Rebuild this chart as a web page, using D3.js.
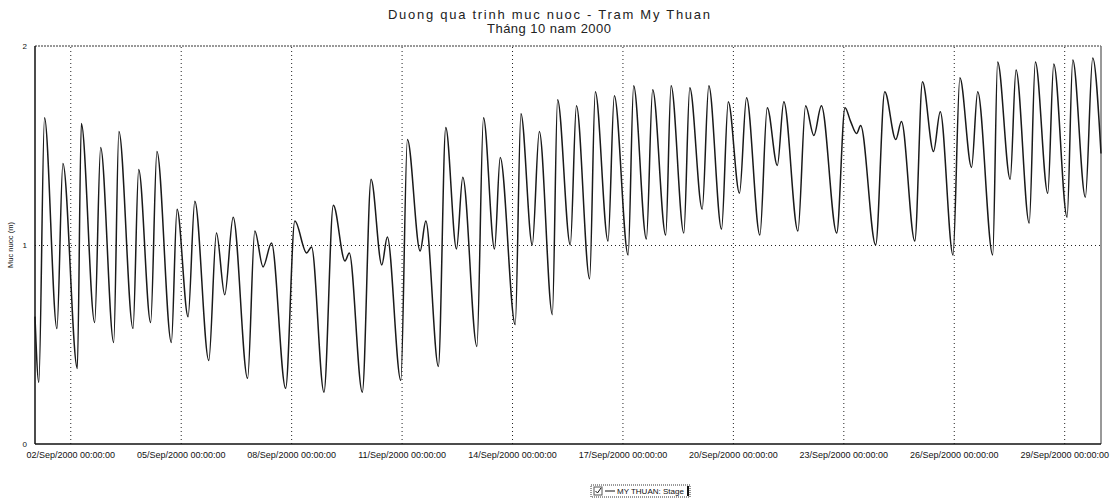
<!DOCTYPE html>
<html>
<head>
<meta charset="utf-8">
<script src="https://cdn.jsdelivr.net/npm/d3@7"></script>
<style>
  body { margin: 0; background: #fff; }
  svg { display: block; font-family: "Liberation Sans", Arial, sans-serif; }
  .axis path, .axis line { stroke: none; }
  .axis text { font-size: 9px; fill: #111; }
  .grid line { stroke: #222; stroke-dasharray: 1,3; }
  .grid path { stroke: none; }
</style>
</head>
<body>
<div id="chart"></div>
<script>
//DATA
//time of each turning point, hours after 01/Sep/2000 00:00
const hours = [
  1.0, 3.5, 7.2, 15.3, 19.2, 28.6, 31.2, 39.9, 43.8, 52.3,
  55.7, 64.9, 68.6, 76.4, 80.5, 89.9, 93.6, 100.8, 105.2, 114.3,
  119.3, 124.7, 130.2, 139.6, 144.3, 149.7, 155.2, 164.4, 170.4, 178.1,
  181.3, 189.4, 195.5, 203.1, 205.9, 214.4, 220.1, 227.1, 230.7, 239.5,
  243.8, 252.1, 255.8, 264.0, 268.8, 275.8, 279.9, 289.1, 293.4, 300.6,
  304.3, 314.1, 317.8, 325.2, 329.8, 338.3, 341.7, 350.0, 354.0, 362.6,
  366.3, 374.6, 378.7, 387.7, 391.3, 399.6, 403.7, 412.2, 415.7, 424.0,
  427.9, 436.0, 440.3, 448.6, 453.0, 460.3, 464.9, 473.6, 478.4, 485.0,
  489.2, 498.4, 503.4, 508.8, 513.7, 523.7, 529.1, 532.8, 536.7, 539.3,
  549.1, 555.0, 562.2, 565.9, 574.6, 579.6, 586.8, 591.2, 599.5, 604.0,
  611.6, 615.6, 625.4, 628.6, 636.8, 640.6, 649.2, 653.2, 661.3, 665.2,
  673.9, 677.6, 685.8, 690.6, 696.0
];
//water level (m) at MY THUAN
const stage = [
  0.64, 0.31, 1.64, 0.58, 1.41, 0.38, 1.61, 0.61, 1.49, 0.51,
  1.57, 0.58, 1.38, 0.61, 1.47, 0.51, 1.18, 0.64, 1.22, 0.42,
  1.06, 0.75, 1.14, 0.33, 1.07, 0.89, 1.01, 0.28, 1.12, 0.96,
  0.99, 0.26, 1.20, 0.92, 0.96, 0.26, 1.33, 0.90, 1.04, 0.32,
  1.53, 0.97, 1.12, 0.39, 1.59, 0.98, 1.34, 0.49, 1.64, 0.98,
  1.44, 0.60, 1.66, 1.00, 1.57, 0.65, 1.73, 1.00, 1.70, 0.83,
  1.77, 1.02, 1.75, 0.95, 1.80, 1.03, 1.78, 1.05, 1.80, 1.06,
  1.79, 1.18, 1.80, 1.08, 1.72, 1.26, 1.74, 1.05, 1.69, 1.40,
  1.72, 1.07, 1.70, 1.55, 1.70, 1.06, 1.69, 1.62, 1.56, 1.60,
  1.00, 1.77, 1.53, 1.62, 1.02, 1.82, 1.47, 1.67, 0.95, 1.84,
  1.39, 1.77, 0.95, 1.92, 1.33, 1.88, 1.11, 1.92, 1.26, 1.91,
  1.14, 1.93, 1.24, 1.94, 1.46
];
const xTickLabels = [
  "02/Sep/2000 00:00:00", "05/Sep/2000 00:00:00", "08/Sep/2000 00:00:00",
  "11/Sep/2000 00:00:00", "14/Sep/2000 00:00:00", "17/Sep/2000 00:00:00",
  "20/Sep/2000 00:00:00", "23/Sep/2000 00:00:00", "26/Sep/2000 00:00:00",
  "29/Sep/2000 00:00:00"
];
const yTicks = [0, 1, 2];
const titleLines = ["Duong qua trinh muc nuoc - Tram My Thuan", "Tháng 10 nam 2000"];
const yLabel = "Muc nuoc (m)";
const seriesName = "MY THUAN: Stage";

//LAYOUT
const W = 1117, H = 498;
const margin = {top: 46, right: 16, bottom: 54, left: 35};
const width = W - margin.left - margin.right;
const height = H - margin.top - margin.bottom;

const svg = d3.select("#chart").append("svg")
  .attr("width", W).attr("height", H);
const g = svg.append("g").attr("transform", `translate(${margin.left},${margin.top})`);

//Scales
const parse = d3.utcParse("%d/%b/%Y %H:%M:%S");
const fmt = d3.utcFormat("%d/%b/%Y %H:%M:%S");
const t0 = Date.UTC(2000, 8, 1);
const data = hours.map((h, i) => ({t: new Date(t0 + h * 3600e3), v: stage[i]}));

const x = d3.scaleUtc()
  .domain([new Date(t0 + 3600e3), new Date(Date.UTC(2000, 8, 30))])
  .range([0, width]);
const y = d3.scaleLinear().domain([0, 2]).range([height, 0]);
const tickDates = xTickLabels.map(parse);

//Grid
g.append("g").attr("class", "grid")
  .attr("transform", `translate(0,${height})`)
  .call(d3.axisBottom(x).tickValues(tickDates).tickSize(-height).tickFormat(""));
g.append("g").attr("class", "grid")
  .call(d3.axisLeft(y).tickValues([1]).tickSize(-width).tickFormat(""));

//Frame
g.append("line").attr("x1", 0).attr("x2", width).attr("y1", 0).attr("y2", 0)
  .attr("stroke", "#333").attr("stroke-dasharray", "2,1");
g.append("line").attr("x1", width).attr("x2", width).attr("y1", 0).attr("y2", height)
  .attr("stroke", "#777").attr("stroke-width", 1.5);
g.append("line").attr("x1", 0).attr("x2", 0).attr("y1", 0).attr("y2", height)
  .attr("stroke", "#111").attr("stroke-width", 1.5);
g.append("line").attr("x1", 0).attr("x2", width).attr("y1", height).attr("y2", height)
  .attr("stroke", "#111").attr("stroke-width", 1.5);

//Axes
g.append("g").attr("class", "axis")
  .attr("transform", `translate(0,${height})`)
  .call(d3.axisBottom(x).tickValues(tickDates).tickSize(0).tickPadding(8).tickFormat(fmt));
g.append("g").attr("class", "axis")
  .call(d3.axisLeft(y).tickValues(yTicks).tickSize(0).tickPadding(8).tickFormat(d3.format("d")))
  .selectAll("text").style("font-size", "8px");

svg.append("text")
  .attr("transform", `translate(13,${margin.top + height / 2}) rotate(-90)`)
  .attr("text-anchor", "middle").attr("font-size", 7.5).attr("fill", "#111")
  .text(yLabel);

//Title
const titleWidths = [322, 124];
svg.selectAll(".title").data(titleLines).join("text")
  .attr("class", "title")
  .attr("x", 549).attr("y", (d, i) => 19 + i * 14)
  .attr("text-anchor", "middle").attr("font-size", 13).attr("fill", "#222")
  .attr("textLength", (d, i) => titleWidths[i]).attr("lengthAdjust", "spacing")
  .text(d => d);

//Series line
const line = d3.line().x(d => x(d.t)).y(d => y(d.v)).curve(d3.curveMonotoneX);
g.append("path").datum(data)
  .attr("fill", "none").attr("stroke", "#1a1a1a").attr("stroke-width", 1.5)
  .attr("stroke-linejoin", "round")
  .attr("d", line);

//Legend
const lg = svg.append("g").attr("transform", "translate(591,485)");
lg.append("rect").attr("width", 99).attr("height", 12)
  .attr("fill", "#fff").attr("stroke", "#333").attr("stroke-dasharray", "1,1");
lg.append("rect").attr("x", 3).attr("y", 2).attr("width", 8).attr("height", 8)
  .attr("fill", "#fff").attr("stroke", "#555");
lg.append("path").attr("d", "M4.5,6 L6.5,8 L10,3").attr("fill", "none").attr("stroke", "#111");
lg.append("line").attr("x1", 14).attr("x2", 24).attr("y1", 6).attr("y2", 6)
  .attr("stroke", "#111");
lg.append("text").attr("x", 26).attr("y", 9).attr("font-size", 8).attr("fill", "#111")
  .text(seriesName);
lg.append("line").attr("x1", 97).attr("x2", 97).attr("y1", 1).attr("y2", 11)
  .attr("stroke", "#111").attr("stroke-width", 2);
</script>
</body>
</html>
